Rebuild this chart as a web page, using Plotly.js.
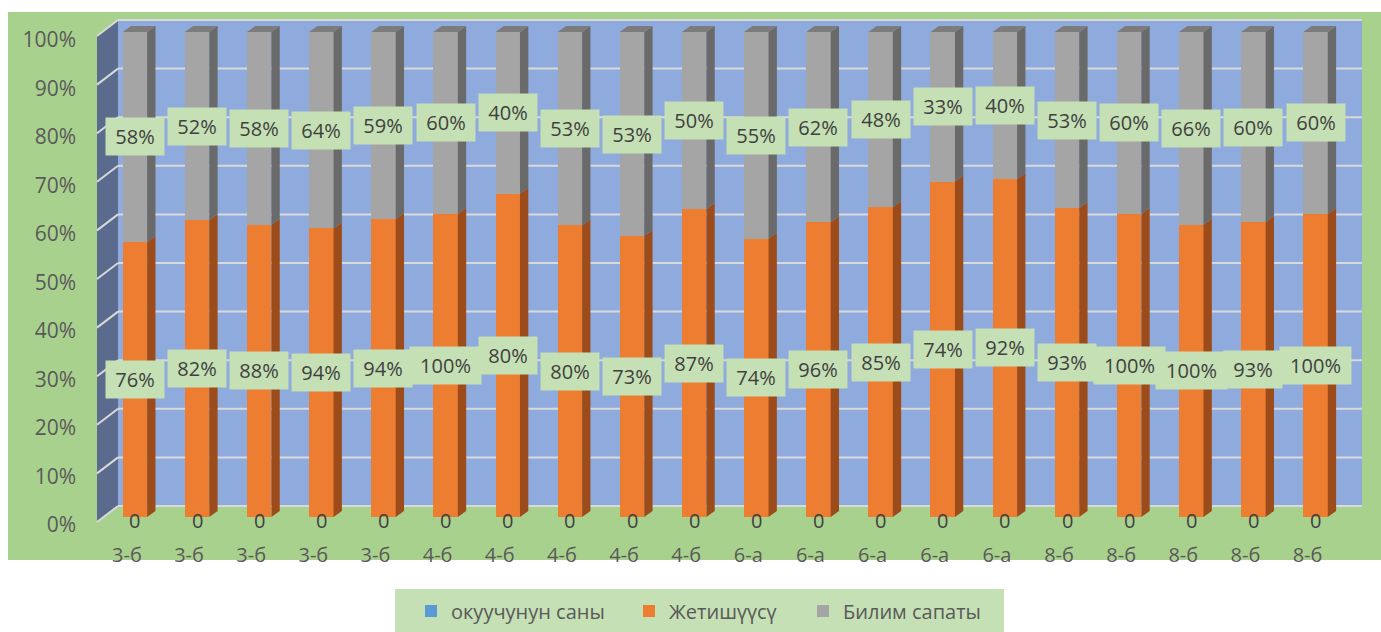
<!DOCTYPE html>
<html>
<head>
<meta charset="utf-8">
<script src="https://cdn.plot.ly/plotly-3.0.1.min.js"></script>
<style>html,body{margin:0;padding:0;background:#fff;}#chart{width:1381px;height:632px;}</style>
</head>
<body>
<div id="chart"></div>
<script>
// ---- data ----
const categories = ['3-б','3-б','3-б','3-б','3-б','4-б','4-б','4-б','4-б','4-б','6-а','6-а','6-а','6-а','6-а','8-б','8-б','8-б','8-б','8-б'];
const studentCount = [0,0,0,0,0,0,0,0,0,0,0,0,0,0,0,0,0,0,0,0];
const achievement = [76,82,88,94,94,100,80,80,73,87,74,96,85,74,92,93,100,100,93,100];
const quality = [58,52,58,64,59,60,40,53,53,50,55,62,48,33,40,53,60,66,60,60];
const yTickValues = [0,10,20,30,40,50,60,70,80,90,100];
const yTickLabels = ['0%','10%','20%','30%','40%','50%','60%','70%','80%','90%','100%'];
const seriesNames = ['окуучунун саны','Жетишүүсү','Билим сапаты'];

// ---- geometry (pixels) ----
const W = 1381, H = 632;
const L = 97, R = 1365, T = 12, B = 525;
const PW = R - L, PH = B - T;
const px = X => (X - L) / PW;
const py = Y => (B - Y) / PH;
const barW = 0.394;           // front face width in category units
const dX = 0.134, dY = 1.237; // depth offset in data units

const xIdx = categories.map((_, i) => i);

const font = 'Open Sans, Noto Sans, sans-serif';

const traces = [
  {type:'bar', name:seriesNames[0], legend:'legend', x:xIdx, y:studentCount, width:barW, marker:{color:'#5B9BD5'}, hoverinfo:'skip'},
  {type:'bar', name:seriesNames[1], legend:'legend2', x:xIdx, y:achievement, width:barW, marker:{color:'#ED7D31'}, hoverinfo:'skip'},
  {type:'bar', name:seriesNames[2], legend:'legend3', x:xIdx, y:quality, width:barW, marker:{color:'#A5A5A5'}, hoverinfo:'skip'}
];

const shapes = [];
// chart background
shapes.push({type:'rect', xref:'paper', yref:'paper', x0:px(8), x1:px(1381), y0:py(12), y1:py(560), fillcolor:'#A9D18E', line:{width:0}, layer:'below'});
// back wall
shapes.push({type:'rect', xref:'paper', yref:'paper', x0:px(118), x1:px(1362), y0:py(506), y1:py(20), fillcolor:'#8FAADC', line:{width:0}, layer:'below'});
// left wall
shapes.push({type:'path', xref:'paper', yref:'paper', path:`M${px(97)},${py(36)} L${px(118)},${py(20)} L${px(118)},${py(506)} L${px(97)},${py(522)} Z`, fillcolor:'#5B6B8D', line:{width:0}, layer:'below'});
// gridlines
for (let k = 0; k <= 10; k++) {
  const yb = 506 - 48.6 * k, yf = 522 - 48.6 * k;
  shapes.push({type:'line', xref:'paper', yref:'paper', x0:px(118), x1:px(1362), y0:py(yb), y1:py(yb), line:{color:'#D9D9D9', width:2}, layer:'below'});
  shapes.push({type:'line', xref:'paper', yref:'paper', x0:px(97), x1:px(118), y0:py(yf), y1:py(yb), line:{color:'#D9D9D9', width:2}, layer:'below'});
}
// legend box
shapes.push({type:'rect', xref:'paper', yref:'paper', x0:px(395), x1:px(1004), y0:py(589), y1:py(632), fillcolor:'#C5E0B4', line:{width:0}, layer:'below'});

// 3D side and top faces of bars, computed from data
const annotations = [];
xIdx.forEach(i => {
  const tot = studentCount[i] + achievement[i] + quality[i];
  const oTop = 100 * (studentCount[i] + achievement[i]) / tot;
  const xr = i + barW / 2, xl = i - barW / 2;
  shapes.push({type:'path', xref:'x', yref:'y', path:`M${xr},0 L${xr+dX},${dY} L${xr+dX},${oTop+dY} L${xr},${oTop} Z`, fillcolor:'#9C4C1A', line:{width:0}});
  shapes.push({type:'path', xref:'x', yref:'y', path:`M${xr},${oTop} L${xr+dX},${oTop+dY} L${xr+dX},${100+dY} L${xr},100 Z`, fillcolor:'#6A6A6A', line:{width:0}});
  shapes.push({type:'path', xref:'x', yref:'y', path:`M${xl},100 L${xr},100 L${xr+dX},${100+dY} L${xl+dX},${100+dY} Z`, fillcolor:'#7C7C7C', line:{width:0}});

  const oMid = 100 * (studentCount[i] + achievement[i] / 2) / tot;
  const gMid = 100 * (studentCount[i] + achievement[i] + quality[i] / 2) / tot;
  const tA = achievement[i] + '%', tQ = quality[i] + '%';
  annotations.push({x:i, y:oMid, xref:'x', yref:'y', text:tA, showarrow:false, bgcolor:'#C5E0B4', borderpad:5, width: tA.length > 3 ? 61 : 48, font:{family:font, size:20, color:'#404040'}});
  annotations.push({x:i, y:gMid, xref:'x', yref:'y', text:tQ, showarrow:false, bgcolor:'#C5E0B4', borderpad:5, width: tQ.length > 3 ? 61 : 48, font:{family:font, size:20, color:'#404040'}});
  annotations.push({x:i, y:0, xref:'x', yref:'y', text:String(studentCount[i]), showarrow:false, yshift:-3, font:{family:font, size:20, color:'#404040'}});
});

const legendBase = {orientation:'h', xanchor:'left', y:py(611), yanchor:'middle', bgcolor:'rgba(0,0,0,0)', font:{family:font, size:20, color:'#595959'}};

const layout = {
  width: W, height: H,
  margin: {l:L, r:W - R, t:T, b:H - B, pad:0, autoexpand:false},
  paper_bgcolor: '#FFFFFF',
  plot_bgcolor: 'rgba(0,0,0,0)',
  barmode: 'stack',
  barnorm: 'percent',
  font: {family: font, color:'#595959'},
  showlegend: true,
  legend: Object.assign({}, legendBase, {x:px(411)}),
  legend2: Object.assign({}, legendBase, {x:px(629)}),
  legend3: Object.assign({}, legendBase, {x:px(803)}),
  xaxis: {range:[(L - 134.9) / 62.14, (R - 134.9) / 62.14], tickmode:'array', tickvals:xIdx, ticktext:categories, showgrid:false, zeroline:false, showline:false, ticks:'', ticklabelstandoff:16, ticklabelshift:-8, tickfont:{family:font, size:20, color:'#595959'}, fixedrange:true, automargin:false},
  yaxis: {range:[-8 / 4.85, (517 - T) / 4.85], tickmode:'array', tickvals:yTickValues, ticktext:yTickLabels, showgrid:false, zeroline:false, showline:false, ticks:'', ticklabelstandoff:20, ticklabelshift:8, tickfont:{family:font, size:21, color:'#595959'}, fixedrange:true, automargin:false},
  shapes: shapes,
  annotations: annotations
};

Plotly.newPlot('chart', traces, layout, {displayModeBar:false, staticPlot:true});
</script>
</body>
</html>
